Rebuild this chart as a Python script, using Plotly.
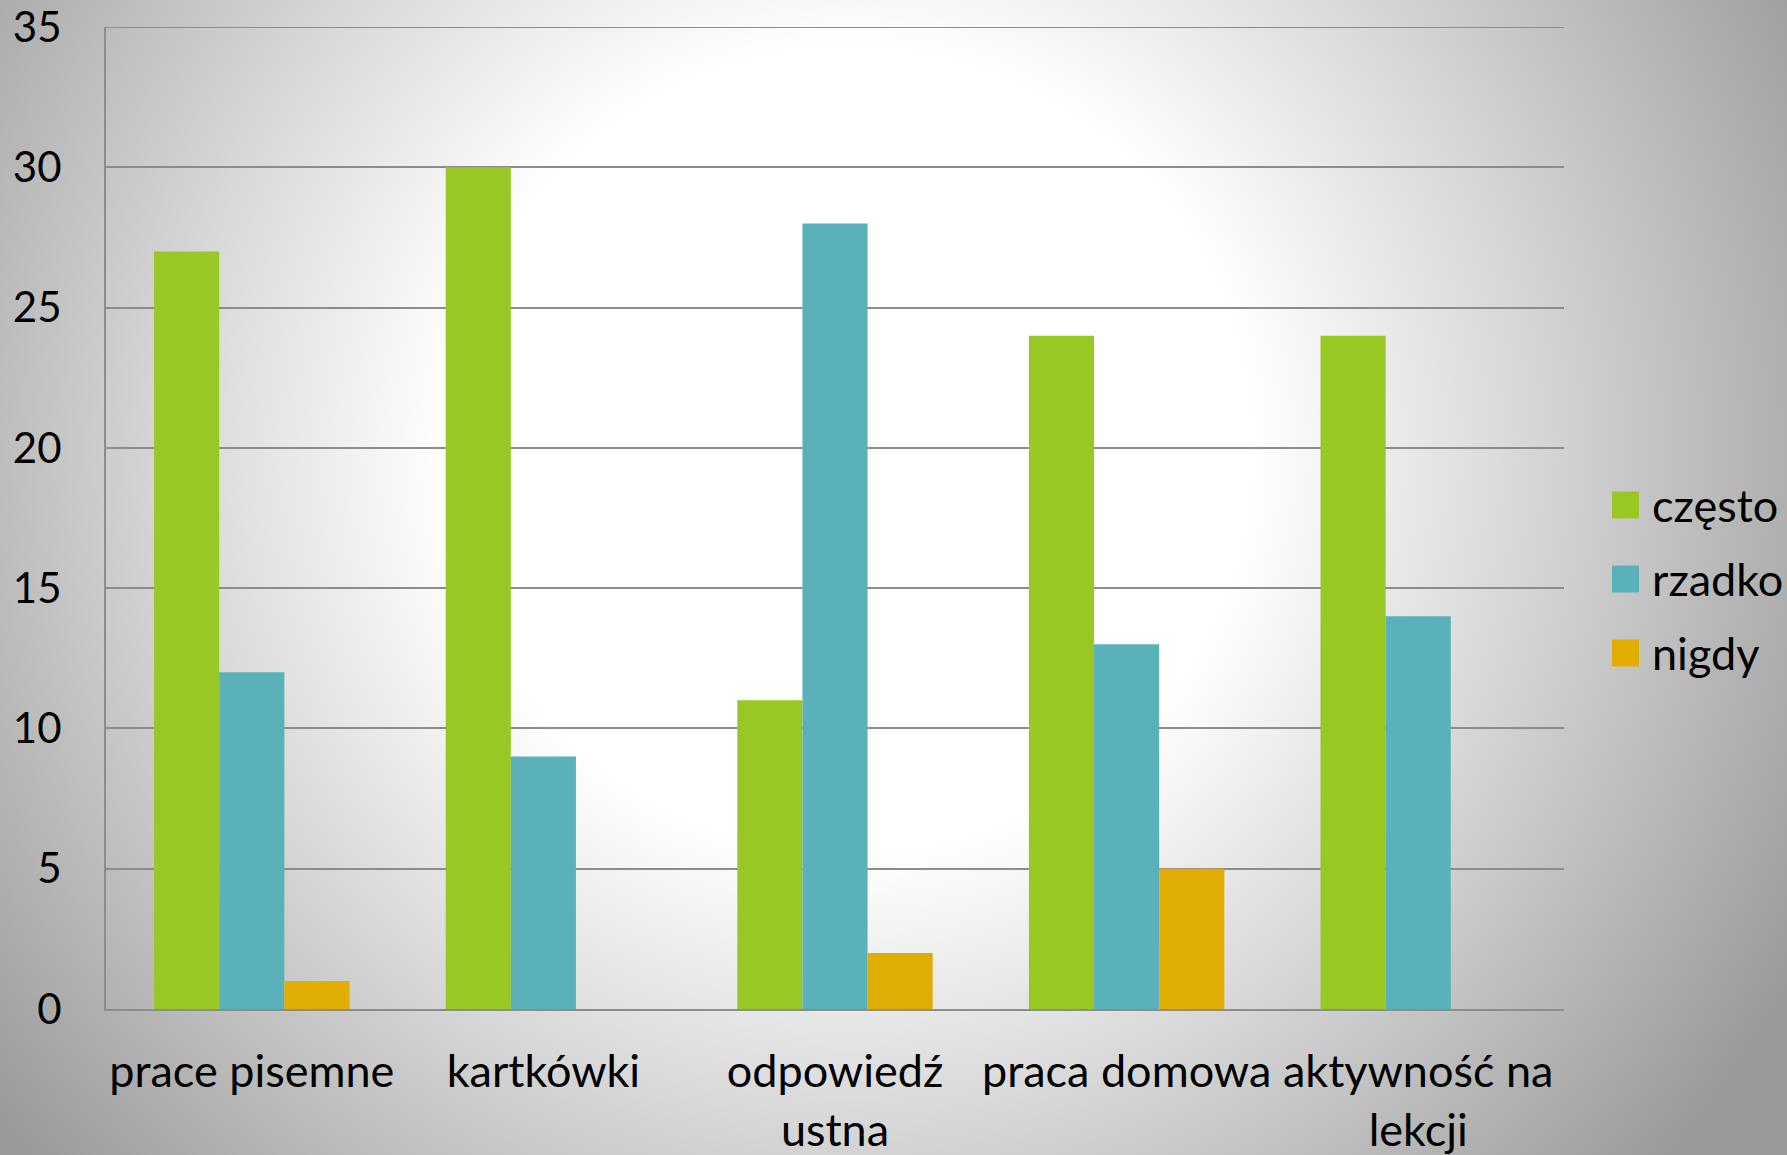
import base64
import plotly.graph_objects as go

categories = ["prace pisemne", "kartkówki", "odpowiedź<br>ustna", "praca domowa", "aktywność na<br>lekcji"]
series_names = ["często", "rzadko", "nigdy"]
czesto = [27, 30, 11, 24, 24]
rzadko = [12, 9, 28, 13, 14]
nigdy = [1, 0, 2, 5, 0]
colors = ["#99C723", "#5BB1B9", "#E0AE00"]
y_ticks = [0, 5, 10, 15, 20, 25, 30, 35]
y_max = 35

W, H = 1787, 1155
ml, mr, mt, mb = 106, 223, 27, 146
pw, ph = W - ml - mr, H - mt - mb

svg = f'''<svg xmlns="http://www.w3.org/2000/svg" width="{W}" height="{H}" viewBox="0 0 {W} {H}">
<defs><radialGradient id="g" gradientUnits="userSpaceOnUse" cx="850" cy="450" r="1080">
<stop offset="0" stop-color="#ffffff"/>
<stop offset="0.37" stop-color="#ffffff"/>
<stop offset="0.62" stop-color="#d8d8d8"/>
<stop offset="1" stop-color="#9a9a9a"/>
</radialGradient></defs>
<rect x="0" y="0" width="{W}" height="{H}" fill="url(#g)"/>
</svg>'''
src = "data:image/svg+xml;base64," + base64.b64encode(svg.encode("utf-8")).decode("ascii")

FONT = "Lato"
FS = 45
GRID = "#8c8c8c"
fig = go.Figure()
for name, vals, col in zip(series_names, [czesto, rzadko, nigdy], colors):
    fig.add_trace(go.Bar(name=name, x=categories, y=vals, marker=dict(color=col, line=dict(width=0)),
                         showlegend=False))

# legend drawn as squares + text, positioned in pixels converted to paper coords
def px_x(p):
    return (p - ml) / pw

def px_y(p):
    return 1 - (p - mt) / ph

shapes = [dict(type="line", xref="paper", yref="y", x0=0, x1=1, y0=y_max, y1=y_max,
               line=dict(color=GRID, width=2), layer="below")]
annotations = []
leg_y = [505, 579, 653]
for name, col, cy in zip(series_names, colors, leg_y):
    shapes.append(dict(type="rect", xref="paper", yref="paper",
                       x0=px_x(1612), x1=px_x(1639), y0=px_y(cy - 13.5), y1=px_y(cy + 13.5),
                       fillcolor=col, line=dict(width=0)))
    annotations.append(dict(text=name, xref="paper", yref="paper", x=px_x(1650), y=px_y(cy),
                            xanchor="left", yanchor="middle", showarrow=False,
                            font=dict(family=FONT, size=FS, color="#000000")))

fig.update_layout(
    template="none",
    width=W, height=H,
    margin=dict(l=ml, r=mr, t=mt, b=mb, pad=0, autoexpand=False),
    paper_bgcolor="#c8c8c8",
    plot_bgcolor="rgba(0,0,0,0)",
    barmode="group", bargap=0.33, bargroupgap=0,
    font=dict(family=FONT, size=FS, color="#000000"),
    showlegend=False,
    shapes=shapes,
    annotations=annotations,
    images=[dict(source=src, xref="paper", yref="paper",
                 x=-ml / pw, y=1 + mt / ph, sizex=W / pw, sizey=H / ph,
                 xanchor="left", yanchor="top", sizing="stretch", layer="below")],
)
fig.update_xaxes(automargin=False, showgrid=False, showline=True, linecolor=GRID, linewidth=2,
                 ticks="", ticklabelstandoff=22, tickfont=dict(family=FONT, size=FS))
fig.update_yaxes(automargin=False, range=[0, y_max], tickvals=y_ticks, showgrid=True,
                 gridcolor=GRID, gridwidth=2,
                 showline=True, linecolor=GRID, linewidth=2, zeroline=False,
                 ticks="", ticklabelstandoff=34, tickfont=dict(family=FONT, size=42))

fig.write_html("out.html", config={"displayModeBar": False},
               post_script="document.body.style.margin='0';document.body.style.overflow='hidden';")
